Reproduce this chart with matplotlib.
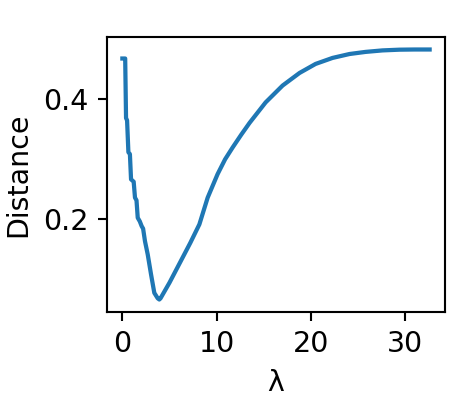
import matplotlib
matplotlib.use("Agg")
import matplotlib.pyplot as plt
import numpy as np

# values
lam = [0.0, 0.3, 0.39, 0.5, 0.64, 0.8, 0.92, 1.2, 1.34, 1.5, 1.63, 1.85, 2.05,
       2.2, 2.4, 2.69, 3.04, 3.39, 3.75, 3.92, 4.05, 5.0, 6.2, 7.2, 8.17,
       9.05, 10.1, 10.9, 11.7, 12.6, 13.5, 15.2, 17.0, 18.8, 20.5,
       22.3, 24.1, 25.8, 27.6, 29.4, 31.0, 32.6]
dist = [0.467, 0.467, 0.368, 0.364, 0.311, 0.308, 0.266, 0.262, 0.2355, 0.231,
        0.202, 0.196, 0.188, 0.184, 0.163, 0.141, 0.108, 0.077, 0.068, 0.066,
        0.068, 0.094, 0.13, 0.16, 0.191, 0.2355, 0.2745, 0.2993, 0.319, 0.340,
        0.36, 0.394, 0.422, 0.443, 0.458, 0.468, 0.4745, 0.478, 0.4805,
        0.4817, 0.482, 0.482]

DPI = 190
fig = plt.figure(figsize=(466 / DPI, 416 / DPI), dpi=DPI)
ax = fig.add_axes([107 / 466, 1 - 312 / 416, 338 / 466, 275 / 416])
ax.plot(lam, dist, color="#1f77b4", linewidth=1.6)
ax.set_yticks([0.2, 0.4])
ax.set_xticks([0, 10, 20, 30])
ax.tick_params(labelsize=10.8)
ax.set_xlabel("λ", fontsize=10.8)
ax.set_ylabel("Distance", fontsize=10.8)

fig.savefig("out.png", dpi=DPI)
